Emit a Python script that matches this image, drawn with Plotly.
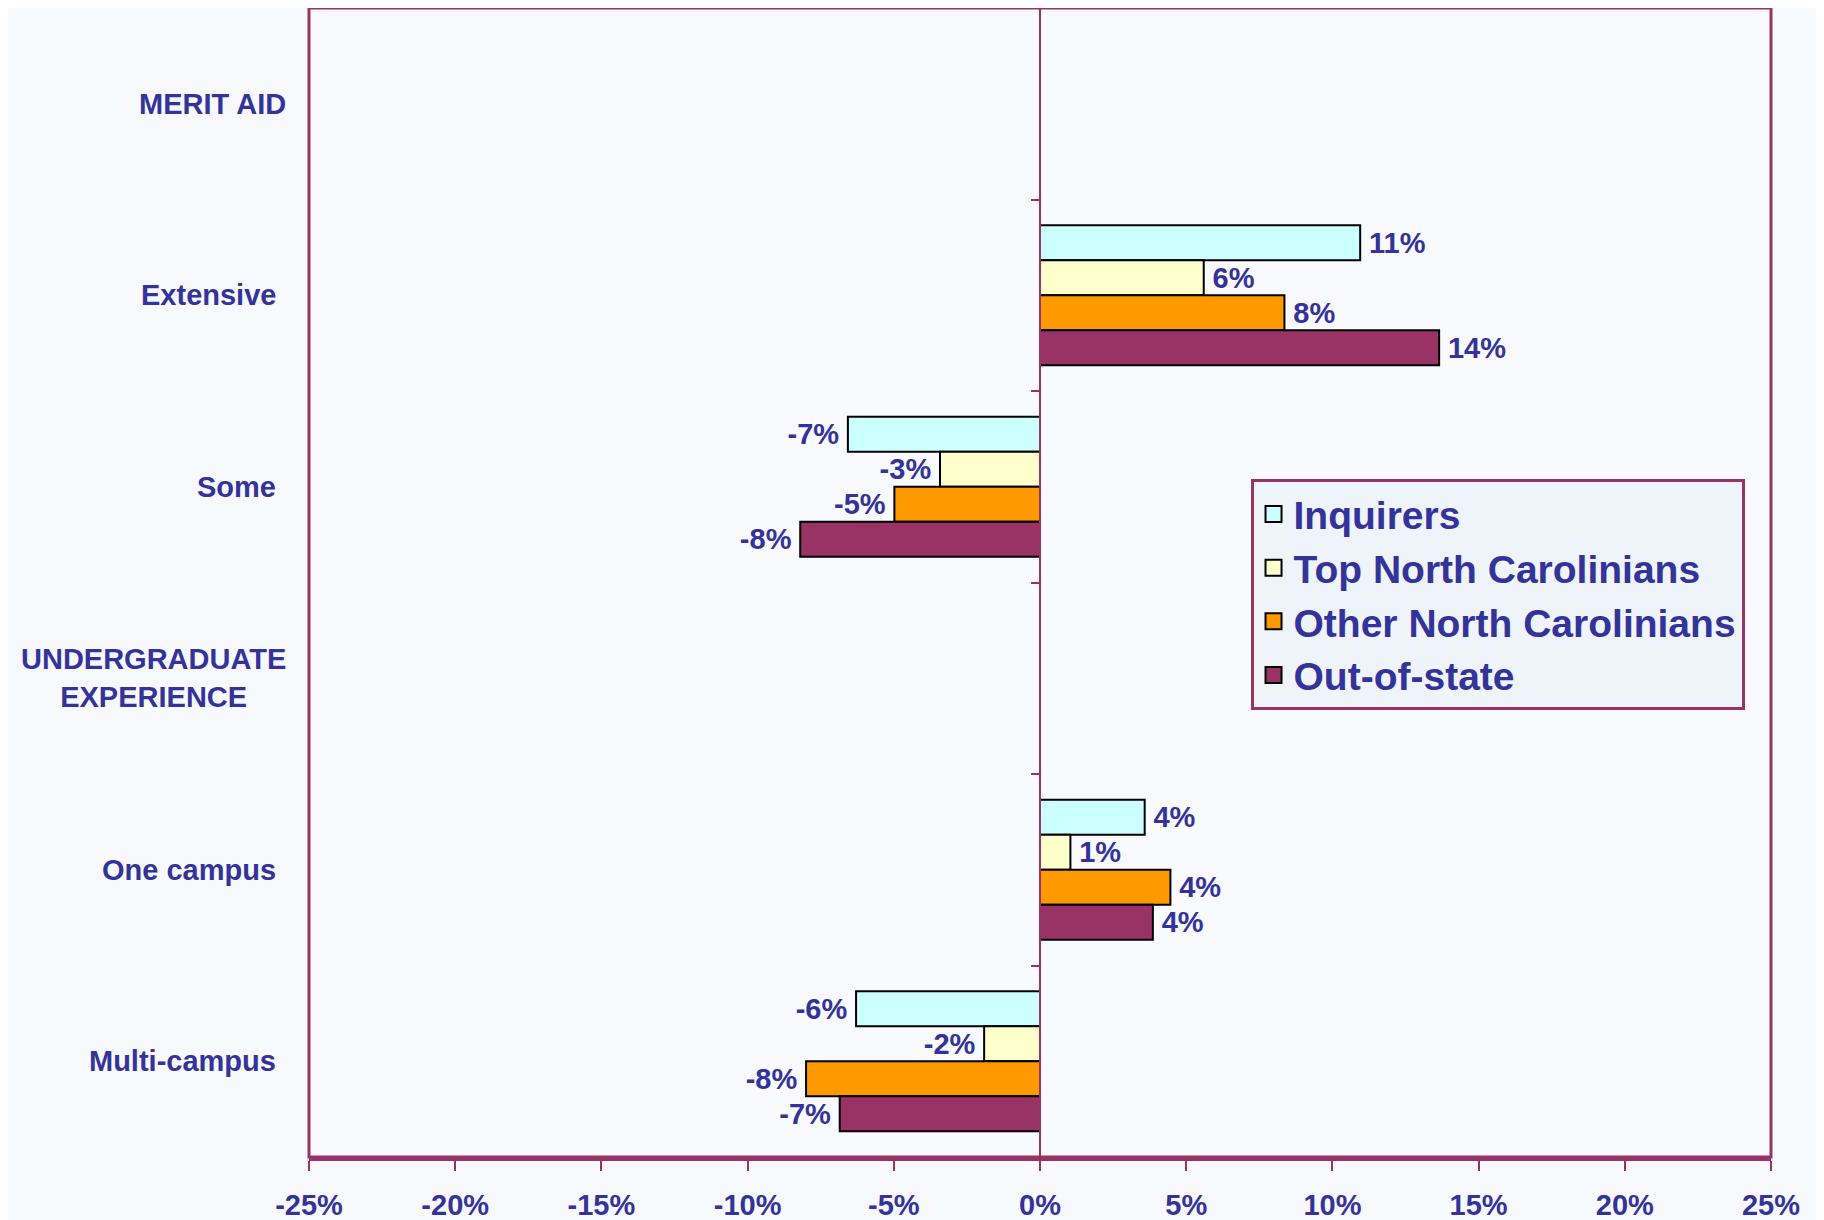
import plotly.graph_objects as go

categories = ["MERIT AID", "Extensive", "Some", "UNDERGRADUATE EXPERIENCE", "One campus", "Multi-campus"]
category_labels = ["MERIT AID", "Extensive", "Some", "UNDERGRADUATE<br>EXPERIENCE", "One campus", "Multi-campus"]

series_names = ["Inquirers", "Top North Carolinians", "Other North Carolinians", "Out-of-state"]
inquirers = [None, 10.95, -6.57, None, 3.58, -6.29]
top_nc = [None, 5.6, -3.42, None, 1.04, -1.91]
other_nc = [None, 8.36, -4.98, None, 4.46, -8.0]
out_of_state = [None, 13.65, -8.2, None, 3.86, -6.85]

x_tickvals = [-25, -20, -15, -10, -5, 0, 5, 10, 15, 20, 25]
x_ticktext = [f"{v}%" for v in x_tickvals]

colors = ["#CCFFFF", "#FFFFCC", "#FF9900", "#993366"]
PLUM = "#993366"
TEXT = "#333399"
FONT = "Liberation Sans, Arial, sans-serif"
PAD = "\u2009"


def bar_label(v):
    if v is None:
        return ""
    s = f"{round(v)}%"
    return PAD + s if v >= 0 else s + PAD


fig = go.Figure()
for name, vals, col in zip(series_names, [inquirers, top_nc, other_nc, out_of_state], colors):
    fig.add_trace(go.Bar(
        y=categories, x=vals, orientation="h", name=name,
        marker=dict(color=col, line=dict(color="black", width=2)),
        text=[bar_label(v) for v in vals],
        textposition="outside", constraintext="none", cliponaxis=False,
        textfont=dict(family=FONT, size=29, color=TEXT, weight="bold"),
        showlegend=False,
    ))
    # legend proxy with a larger square swatch
    fig.add_trace(go.Scatter(
        x=[None], y=[None], mode="markers", name=name,
        marker=dict(symbol="square", size=22, color=col, line=dict(color="black", width=2)),
        showlegend=True,
    ))

# group headers (no data) sit slightly further right than the sub-items
is_header = [all(s[i] is None for s in (inquirers, top_nc, other_nc, out_of_state))
             for i in range(len(categories))]
for cat, lab, hdr in zip(categories, category_labels, is_header):
    fig.add_annotation(
        x=-0.0145 if hdr else -0.021, xref="paper", y=cat, yref="y", text=lab, showarrow=False,
        xanchor="right", yanchor="middle", align="center",
        font=dict(family=FONT, size=29, color=TEXT, weight="bold"),
    )

fig.add_shape(type="rect", xref="paper", yref="paper", x0=0, x1=1, y0=0, y1=1,
              line=dict(color=PLUM, width=3), layer="above")

fig.update_layout(
    width=1816, height=1212,
    margin=dict(l=301, r=53, t=0, b=63, autoexpand=False),
    paper_bgcolor="#F7F9FD", plot_bgcolor="#F8FAFE",
    barmode="group", bargap=0.27, bargroupgap=0,
    font=dict(family=FONT, color=TEXT),
    xaxis=dict(
        range=[-25, 25], tickmode="array", tickvals=x_tickvals, ticktext=x_ticktext,
        automargin=False,
        showgrid=False, zeroline=False,
        showline=True, linecolor=PLUM, linewidth=4,
        ticks="outside", ticklen=10, tickwidth=2, tickcolor=PLUM,
        ticklabelstandoff=9,
        tickfont=dict(family=FONT, size=29, color=TEXT, weight="bold"),
    ),
    yaxis=dict(
        type="category", categoryorder="array", categoryarray=categories,
        range=[5.5, -0.5], anchor="free", position=0.5, automargin=False,
        showgrid=False, zeroline=False, showticklabels=False,
        showline=True, linecolor=PLUM, linewidth=2,
        ticks="outside", tickson="boundaries", ticklen=8, tickwidth=2, tickcolor=PLUM,
    ),
    legend=dict(
        x=0.644, y=0.590, xanchor="left", yanchor="top",
        bgcolor="#EFF4FB", bordercolor=PLUM, borderwidth=3,
        font=dict(family=FONT, size=39, color=TEXT, weight="bold"),
    ),
)

fig.write_html("out.html")
